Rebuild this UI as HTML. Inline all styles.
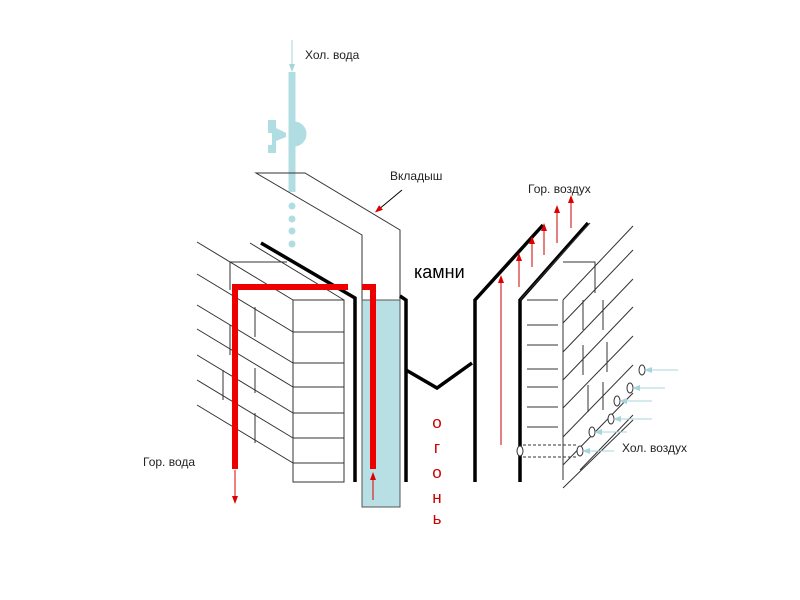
<!DOCTYPE html><html><head><meta charset="utf-8"><style>body{margin:0;background:#fff}svg{display:block}text{font-family:"Liberation Sans",sans-serif}</style></head><body>
<svg width="800" height="600" viewBox="0 0 800 600">
<defs>
<marker id="ar" markerWidth="8" markerHeight="8" refX="4" refY="4" orient="auto"><path d="M0,1 L8,4 L0,7z" fill="#d00"/></marker>
<marker id="ac" markerWidth="8" markerHeight="8" refX="4" refY="4" orient="auto"><path d="M0,1 L8,4 L0,7z" fill="#a8d4dc"/></marker>
</defs>
<!-- cold water pipe -->
<line x1="292" y1="40" x2="292" y2="68" stroke="#a8d4dc" stroke-width="1" marker-end="url(#ac)"/>
<line x1="292" y1="72" x2="292" y2="192" stroke="#b0dde2" stroke-width="7"/>
<path d="M294,122 A12,12 0 0 1 294,146z" fill="#b0dde2" stroke="#b0dde2"/>
<path d="M268,120 h8 v8 l10,5 v4 l-10,4 v12 h-8 v-8 h4 v-12 h-4z" fill="#b0dde2"/>
<g fill="#b0dde2"><circle cx="292" cy="206" r="3.5"/><circle cx="292" cy="219" r="3.5"/><circle cx="292" cy="231" r="3.5"/><circle cx="292" cy="244" r="3.5"/></g>
<!-- insert -->
<g fill="none" stroke="#333" stroke-width="1">
<path d="M400,300 V230 L305,173 H256 L362,235 V300"/>
</g>
<rect x="362" y="300" width="38" height="207" fill="#b8dfe3" stroke="#555"/>
<!-- left brick -->
<g stroke="#333" stroke-width="1" fill="none">
<rect x="293" y="300" width="51" height="182"/>
<path d="M293,332H344M293,363H344M293,387H344M293,413H344M293,438H344M293,463H344"/>
<path d="M197,242L293,300M197,274L293,332M197,305L293,363M197,329L293,387M197,355L293,413M197,380L293,438M197,405L293,463"/>
<path d="M250,243L344,300M230,262H287M230,262V290"/>
<path d="M255,307V337M255,368V393M255,413V443M230,325V355M223,370V400"/>
</g>
<!-- black walls -->
<g stroke="#000" stroke-width="3.5" fill="none">
<path d="M261,243L355,298V482"/>
<path d="M400,296L406,300V482"/>
<path d="M406,370L437,388L472,363"/>
<path d="M475,482V300L543,225"/>
<path d="M520,482V300L588,223"/>
</g>
<!-- red water -->
<g stroke="#e00" stroke-width="6" fill="none">
<path d="M235,469V287H348"/>
<path d="M362,287H373V469"/>
</g>
<line x1="235" y1="470" x2="235" y2="500" stroke="#d00" stroke-width="1" marker-end="url(#ar)"/>
<line x1="373" y1="500" x2="373" y2="476" stroke="#d00" stroke-width="1" marker-end="url(#ar)"/>
<!-- right brick -->
<g stroke="#333" stroke-width="1" fill="none">
<path d="M527,300H558M527,325H558M527,345H558M527,369H558M527,387H558M527,407H558M527,427H558"/>
<path d="M563,300V480M563,262H595V293"/>
<path d="M520,300L590,223M563,300L633,226M563,323L633,250M563,352L633,279M563,380L633,307M563,408L633,336M563,437L633,365M563,465L633,393M563,488L633,420M580,470L633,415"/>
<path d="M583,300V330M603,300V330M583,345V375M607,342V372M588,385V412M603,382V410"/>
</g>
<!-- red air arrows -->
<g stroke="#c00" stroke-width="1" marker-end="url(#ar)">
<line x1="501" y1="445" x2="501" y2="279"/><line x1="519" y1="287" x2="519" y2="257"/>
<line x1="532" y1="267" x2="532" y2="240"/><line x1="544" y1="255" x2="544" y2="227"/>
<line x1="557" y1="243" x2="557" y2="209"/><line x1="571" y1="228" x2="571" y2="199"/>
</g>
<!-- holes -->
<g fill="#fff" stroke="#333" stroke-width="1">
<ellipse cx="642" cy="370" rx="3" ry="5"/><ellipse cx="630" cy="388" rx="3" ry="5"/><ellipse cx="617" cy="401" rx="3" ry="5"/><ellipse cx="611" cy="419" rx="3" ry="5"/><ellipse cx="592" cy="432" rx="3" ry="5"/><ellipse cx="580" cy="451" rx="3" ry="5"/><ellipse cx="520" cy="451" rx="3" ry="5"/>
</g>
<path d="M523,445H578M523,457H578" stroke="#333" stroke-dasharray="3,2"/>
<g stroke="#a8d4dc" stroke-width="1" marker-end="url(#ac)">
<line x1="678" y1="370" x2="648" y2="370"/><line x1="665" y1="388" x2="636" y2="388"/><line x1="652" y1="401" x2="623" y2="401"/><line x1="652" y1="419" x2="617" y2="419"/><line x1="627" y1="432" x2="598" y2="432"/><line x1="614" y1="451" x2="586" y2="451"/>
</g>
<!-- labels -->
<line x1="402" y1="190" x2="378" y2="210" stroke="#000" marker-end="url(#ar)"/>
<g font-size="12" fill="#222">
<text x="305" y="59">Хол. вода</text>
<text x="390" y="180">Вкладыш</text>
<text x="528" y="193">Гор. воздух</text>
<text x="143" y="466">Гор. вода</text>
<text x="622" y="452">Хол. воздух</text>
</g>
<text x="414" y="278" font-size="18" fill="#000">камни</text>
<g font-size="17" fill="#c00" text-anchor="middle"><text x="437" y="428">о</text><text x="437" y="453">г</text><text x="437" y="478">о</text><text x="437" y="503">н</text><text x="437" y="524">ь</text></g>
</svg>
<style>marker path{}</style>
</body></html>
